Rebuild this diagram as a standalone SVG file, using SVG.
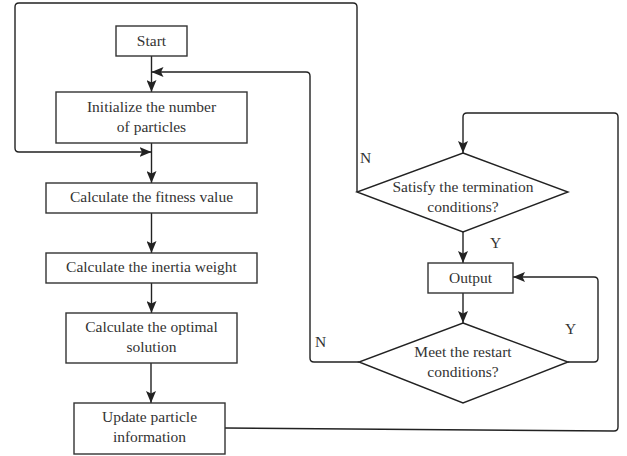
<svg xmlns="http://www.w3.org/2000/svg" width="627" height="456" viewBox="0 0 627 456">
<style>
.box{fill:#fff;stroke:#333;stroke-width:1.4}
.dia{fill:#fff;stroke:#222;stroke-width:1.4}
.con{fill:none;stroke:#222;stroke-width:1.4}
text{font-family:"Liberation Serif","Times New Roman",serif;font-size:15.5px;fill:#333}
.c{text-anchor:middle}
</style>
<defs>
<marker id="arr" viewBox="0 0 12 10" refX="12" refY="5" markerWidth="12" markerHeight="10" markerUnits="userSpaceOnUse" orient="auto">
<path d="M0,0 L12,5 L0,10 L2.5,5 Z" fill="#222"/>
</marker>
</defs>
<rect width="627" height="456" fill="#fff"/>
<g id="connectors">
<path class="con" d="M151.5,56 L151.5,92" marker-end="url(#arr)"/>
<path class="con" d="M151.5,143 L151.5,183" marker-end="url(#arr)"/>
<path class="con" d="M151.5,213 L151.5,253" marker-end="url(#arr)"/>
<path class="con" d="M151.5,283 L151.5,313" marker-end="url(#arr)"/>
<path class="con" d="M151,363 L151,403" marker-end="url(#arr)"/>
<path class="con" d="M225,428 L614,431 Q618,431 618,427 L618,117 Q618,113 614,113 L467,113 Q463,113 463,117 L463,153" marker-end="url(#arr)"/>
<path class="con" d="M357,192 L357,7 Q357,3 353,3 L19,3 Q15,3 15,7 L15,148 Q15,152 19,152 L151.5,152" marker-end="url(#arr)"/>
<path class="con" d="M463,232 L463,263" marker-end="url(#arr)"/>
<path class="con" d="M463,293 L463,323" marker-end="url(#arr)"/>
<path class="con" d="M568,362 L594,362 Q598,362 598,358 L598,281 Q598,277 594,277 L513,277" marker-end="url(#arr)"/>
<path class="con" d="M359,362 L314,362 Q310,362 310,358 L310,76 Q310,72 306,72 L151.5,72" marker-end="url(#arr)"/>
<text x="360" y="163">N</text>
<text x="490" y="248">Y</text>
<text x="565" y="334">Y</text>
<text x="315" y="347">N</text>
</g>
<g id="start">
<rect class="box" x="116" y="26" width="71" height="30"/>
<text class="c" x="151.5" y="46">Start</text>
</g>
<g id="init">
<rect class="box" x="56" y="92" width="191" height="51"/>
<text class="c" x="151.5" y="112">Initialize the number</text>
<text class="c" x="151.5" y="132">of particles</text>
</g>
<g id="fitness">
<rect class="box" x="46" y="183" width="211" height="30"/>
<text class="c" x="151.5" y="202">Calculate the fitness value</text>
</g>
<g id="inertia">
<rect class="box" x="46" y="253" width="211" height="30"/>
<text class="c" x="151.5" y="272">Calculate the inertia weight</text>
</g>
<g id="optimal">
<rect class="box" x="66" y="313" width="171" height="50"/>
<text class="c" x="151.5" y="332">Calculate the optimal</text>
<text class="c" x="151.5" y="352">solution</text>
</g>
<g id="update">
<rect class="box" x="74" y="403" width="151" height="51"/>
<text class="c" x="149.5" y="422">Update particle</text>
<text class="c" x="149.5" y="442">information</text>
</g>
<g id="satisfy">
<polygon class="dia" points="463,153 568,192 463,232 357,192"/>
<text class="c" x="463" y="192">Satisfy the termination</text>
<text class="c" x="463" y="212">conditions?</text>
</g>
<g id="output">
<rect class="box" x="428" y="263" width="85" height="30"/>
<text class="c" x="470.5" y="283">Output</text>
</g>
<g id="restart">
<polygon class="dia" points="463,323 568,362 463,403 359,362"/>
<text class="c" x="463" y="357">Meet the restart</text>
<text class="c" x="463" y="377">conditions?</text>
</g>
</svg>
